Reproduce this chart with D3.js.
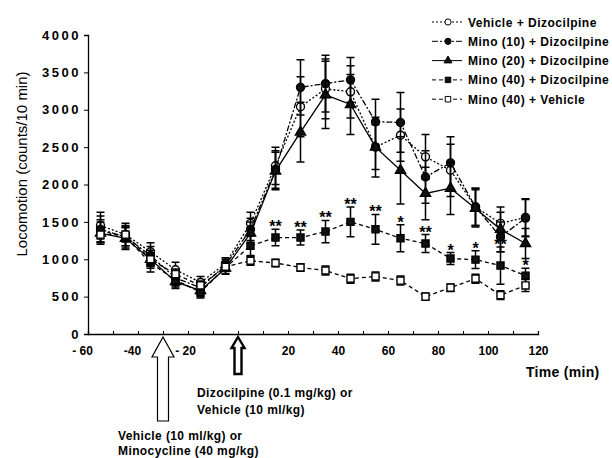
<!DOCTYPE html>
<html><head><meta charset="utf-8">
<script src="https://cdn.jsdelivr.net/npm/d3@7"></script>
<style>
body{margin:0;background:#fff;}
svg{display:block;font-family:"Liberation Sans",Arial,sans-serif;}
</style></head>
<body><svg id="c" width="612" height="458"></svg>
<script>
// ---- data ----
const times = [-55,-45,-35,-25,-15,-5,5,15,25,35,45,55,65,75,85,95,105,115];
const seriesNames = ["Vehicle  + Dizocilpine","Mino (10) + Dizocilpine","Mino (20) + Dizocilpine","Mino (40) + Dizocilpine","Mino (40) + Vehicle"];
const vehDizo    = [1450,1330,1100,860,690,940,1480,2250,3040,3280,3240,2500,2660,2370,2190,1700,1480,1560];
const vehDizoErr = [180,150,120,100,80,80,150,250,400,400,350,300,350,300,350,250,150,250];
const mino10     = [1400,1300,1050,750,620,920,1400,2200,3300,3350,3400,2840,2830,2100,2290,1700,1300,1550];
const mino10Err  = [180,150,120,100,80,80,150,250,370,380,300,300,400,350,350,250,200,250];
const mino20     = [1350,1280,1000,700,580,880,1350,2180,2700,3200,3070,2500,2190,1880,1950,1680,1400,1210];
const mino20Err  = [150,150,120,90,80,80,150,250,400,450,400,400,450,350,350,250,300,200];
const mino40D    = [1380,1300,950,720,560,890,1180,1290,1290,1370,1500,1400,1280,1210,1010,995,915,780];
const mino40DErr = [150,120,120,90,80,80,130,110,100,150,200,200,180,120,80,120,250,100];
const mino40V    = [1330,1330,1000,800,650,900,980,950,890,850,740,770,715,500,620,740,520,650];
const mino40VErr = [100,100,80,70,60,60,60,50,50,60,60,60,60,50,50,60,60,80];
const sigTimes = [15,25,35,45,55,65,75,85,95,105,115];
const sigMarks = ["**","**","**","**","**","*","**","*","*","**","*"];
const yTicks = [0,500,1000,1500,2000,2500,3000,3500,4000];
const xTicks = [-60,-50,-40,-30,-20,-10,0,10,20,30,40,50,60,70,80,90,100,110,120];
const xTickLabels = {"-60":"- 60","-40":"-40","-20":"- 20","20":"20","40":"40","60":"60","80":"80","100":"100","120":"120"};
const treat1Time = -30, treat2Time = 0;
const treat1Text = ["Vehicle (10 ml/kg) or","Minocycline (40 mg/kg)"];
const treat2Text = ["Dizocilpine (0.1 mg/kg) or","Vehicle (10 ml/kg)"];

// ---- chart ----
const svg = d3.select("#c");
const x = d3.scaleLinear().domain([-60,120]).range([88,538]);
const y = d3.scaleLinear().domain([0,4000]).range([334,35]);

const series = [
  {name:seriesNames[0], v:vehDizo, e:vehDizoErr, dash:"2,2", sym:"circle", fill:"#fff"},
  {name:seriesNames[1], v:mino10, e:mino10Err, dash:"6,2,2,2", sym:"circle", fill:"#111"},
  {name:seriesNames[2], v:mino20, e:mino20Err, dash:null, sym:"triangle", fill:"#111"},
  {name:seriesNames[3], v:mino40D, e:mino40DErr, dash:"4,3", sym:"square", fill:"#111"},
  {name:seriesNames[4], v:mino40V, e:mino40VErr, dash:"4,3", sym:"square", fill:"#fff"}
];
const symType = {circle:d3.symbolCircle, triangle:d3.symbolTriangle, square:d3.symbolSquare};
const symSize = {circle:50, triangle:45, square:50};

// arrows (drawn first so labels sit on top)
function arrowPath(cx,tip,headBase,hw,sw,bottom){
  return `M${cx},${tip}L${cx+hw},${headBase}L${cx+sw},${headBase}L${cx+sw},${bottom}L${cx-sw},${bottom}L${cx-sw},${headBase}L${cx-hw},${headBase}Z`;
}
svg.append("path").attr("d",arrowPath(x(treat1Time),337,357,11,5.5,421))
  .attr("fill","#fff").attr("stroke","#000").attr("stroke-width",1.2);
svg.append("path").attr("d",arrowPath(x(treat2Time),337,348,6.5,3.5,374))
  .attr("fill","#fff").attr("stroke","#000").attr("stroke-width",2.4);

// axes
const yAx = svg.append("g").attr("transform","translate(88,0)")
  .call(d3.axisLeft(y).tickValues(yTicks).tickSize(4).tickPadding(3).tickFormat(d3.format("d")));
yAx.selectAll("text").attr("font-size",13).attr("font-weight","bold").attr("letter-spacing","2.5px").attr("fill","#000");
yAx.select(".domain").attr("stroke","#000").attr("stroke-width",1.3);

const xAx = svg.append("g").attr("transform","translate(0,334)")
  .call(d3.axisBottom(x).tickValues(xTicks).tickSize(-3).tickPadding(12)
    .tickFormat(d => xTickLabels[String(d)] || ""));
xAx.selectAll("text").attr("font-size",12).attr("font-weight","bold").attr("fill","#000");
xAx.select(".domain").attr("stroke","#000").attr("stroke-width",1.3);
xAx.selectAll("text").filter(d => d === -60 || d === -40).attr("dx","-6");
xAx.selectAll("text").filter(d => d === -20).attr("dx","-3");

// axis titles
svg.append("text").attr("transform","translate(27,164) rotate(-90)")
  .attr("text-anchor","middle").attr("font-size",15).text("Locomotion (counts/10 min)");
svg.append("text").attr("x",526).attr("y",377).attr("font-size",14).attr("font-weight","bold")
  .attr("letter-spacing","0.3px").text("Time (min)");

// lines, error bars, markers
const line = d3.line().x((d,i)=>x(times[i])).y(d=>y(d));
series.forEach(s => {
  const g = svg.append("g");
  g.append("path").datum(s.v).attr("d",line).attr("fill","none").attr("stroke","#000")
    .attr("stroke-width",1.3).attr("stroke-dasharray",s.dash);
  g.selectAll(".eb").data(s.v).enter().append("path")
    .attr("d",(d,i)=>{const X=x(times[i]),t=y(d+s.e[i]),b=y(d-s.e[i]);
      return `M${X},${t}V${b}M${X-4},${t}H${X+4}M${X-4},${b}H${X+4}`;})
    .attr("stroke","#000").attr("stroke-width",1.5).attr("fill","none");
  g.selectAll(".mk").data(s.v).enter().append("path")
    .attr("d",d3.symbol().type(symType[s.sym]).size(symSize[s.sym]))
    .attr("transform",(d,i)=>`translate(${x(times[i])},${y(d)})`)
    .attr("fill",s.fill).attr("stroke","#000").attr("stroke-width",1.4);
});

// significance asterisks
svg.selectAll(".sig").data(sigTimes).enter().append("text")
  .attr("x",d=>x(d)).attr("y",(d,i)=>{const k=times.indexOf(d);return y(mino40D[k]+mino40DErr[k])+3;})
  .attr("text-anchor","middle").attr("font-size",16).attr("font-weight","bold")
  .text((d,i)=>sigMarks[i]);

svg.append("g").selectAll("text").data(treat2Text).enter().append("text")
  .attr("x",197).attr("y",(d,i)=>397+i*17).attr("font-size",12).attr("font-weight","bold")
  .attr("letter-spacing","0.4px").text(d=>d);
svg.append("g").selectAll("text").data(treat1Text).enter().append("text")
  .attr("x",118).attr("y",(d,i)=>440+i*15).attr("font-size",12).attr("font-weight","bold")
  .attr("letter-spacing","0.4px").text(d=>d);

// legend
const lg = svg.append("g");
series.forEach((s,i) => {
  const yy = 22 + i*19.3;
  lg.append("line").attr("x1",432).attr("x2",462).attr("y1",yy).attr("y2",yy)
    .attr("stroke","#000").attr("stroke-width",1).attr("stroke-dasharray",s.dash||null);
  lg.append("path").attr("d",d3.symbol().type(symType[s.sym]).size(symSize[s.sym]*0.6))
    .attr("transform",`translate(448,${yy})`).attr("fill",s.fill).attr("stroke","#000").attr("stroke-width",1);
  lg.append("text").attr("x",468).attr("y",yy+4.5).attr("font-size",12).attr("font-weight","bold")
    .attr("letter-spacing","0.5px").text(s.name);
});
</script></body></html>
